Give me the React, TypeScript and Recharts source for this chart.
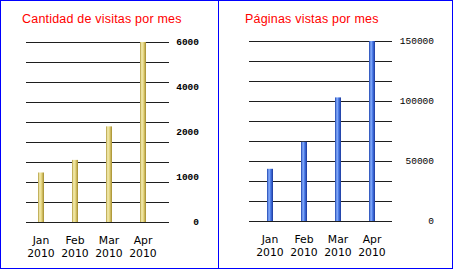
import { Bar, BarChart, CartesianGrid, XAxis, YAxis } from "recharts";

const months = ["Jan 2010", "Feb 2010", "Mar 2010", "Apr 2010"];
const visits = [1100, 1380, 2250, 6000];
const pageViews = [43500, 66000, 103000, 150000];
const visitTicks = [0, 1000, 2000, 4000, 6000];
const pageTicks = [0, 50000, 100000, 150000];
const gridSteps = [0, 1, 2, 3, 4, 5, 6, 7, 8, 9];

const visitData = months.map((m, i) => ({ month: m, value: visits[i] }));
const pageData = months.map((m, i) => ({ month: m, value: pageViews[i] }));

// the visits axis puts its labels at equal steps, so values go piece by piece between them
function pieceScale(knots: number[]) {
  let dom = [knots[0], knots[knots.length - 1]];
  let rng = [0, 1];
  const s: any = (v: number) => {
    const n = knots.length - 1;
    let i = 0;
    while (i < n - 1 && v > knots[i + 1]) i++;
    const t = (i + (v - knots[i]) / (knots[i + 1] - knots[i])) / n;
    return rng[0] + t * (rng[1] - rng[0]);
  };
  s.domain = (d?: number[]) => (d ? ((dom = d), s) : dom);
  s.range = (r?: number[]) => (r ? ((rng = r), s) : rng);
  s.copy = () => pieceScale(knots).domain(dom).range(rng);
  s.ticks = () => knots;
  return s;
}

// nine equal bands of grid, independent of the labelled values (+0.5 keeps lines crisp)
const gridLines = ({ offset }: any) =>
  gridSteps.map(
    (k) => offset.top + 0.5 + (offset.height * k) / (gridSteps.length - 1)
  );

const MonthTick = (props: any) => {
  const [m, y] = String(props.payload.value).split(" ");
  return (
    <text
      x={props.x}
      y={props.y}
      textAnchor="middle"
      fontFamily="DejaVu Sans"
      fontSize={10.8}
      fill="#000"
    >
      <tspan x={props.x} dy={14}>{m}</tspan>
      <tspan x={props.x} dy={13}>{y}</tspan>
    </text>
  );
};

const makeValueTick = (shift: number, weight: string) => (props: any) => (
  <text
    x={props.x + shift}
    y={props.y}
    dy={3}
    textAnchor="end"
    fontFamily="Liberation Mono"
    fontSize={9.5}
    fontWeight={weight}
    fill="#000"
  >
    {props.payload.value}
  </text>
);

const titleStyle: React.CSSProperties = {
  position: "absolute",
  top: 12,
  fontFamily: "Liberation Sans, Arial, sans-serif",
  fontSize: 12.5,
  letterSpacing: 0.2,
  color: "#ff0000",
  whiteSpace: "nowrap",
};

export default function App() {
  return (
    <div
      style={{
        position: "fixed",
        left: 0,
        top: 0,
        width: 451,
        height: 267,
        border: "1px solid #0000ff",
        background: "#fff",
      }}
    >
      <svg width={0} height={0} style={{ position: "absolute" }}>
        <defs>
          <linearGradient id="gold" x1="0" y1="0" x2="1" y2="0">
            <stop offset="0%" stopColor="#b09a3c" />
            <stop offset="30%" stopColor="#f6efb4" />
            <stop offset="60%" stopColor="#e2d27c" />
            <stop offset="100%" stopColor="#a48c2c" />
          </linearGradient>
          <linearGradient id="blue" x1="0" y1="0" x2="1" y2="0">
            <stop offset="0%" stopColor="#1c44b0" />
            <stop offset="35%" stopColor="#8cb2ff" />
            <stop offset="60%" stopColor="#4a7ae6" />
            <stop offset="100%" stopColor="#1a389c" />
          </linearGradient>
        </defs>
      </svg>

      <div
        style={{
          position: "absolute",
          left: 217,
          top: 0,
          width: 1,
          height: 267,
          background: "#0000ff",
        }}
      />

      <div style={{ position: "absolute", left: -1, top: -1 }}>
        <div style={{ ...titleStyle, left: 22 }}>Cantidad de visitas por mes</div>
        <BarChart
          width={218}
          height={269}
          data={visitData}
          margin={{ top: 42, left: 26, right: 19, bottom: 7 }}
        >
          <CartesianGrid
            vertical={false}
            stroke="#1e1e1e"
            horizontalCoordinatesGenerator={gridLines}
          />
          <XAxis
            dataKey="month"
            axisLine={false}
            tickLine={false}
            interval={0}
            height={40}
            padding={{ left: -2, right: 9 }}
            tick={<MonthTick />}
          />
          <YAxis
            orientation="right"
            width={30}
            scale={pieceScale(visitTicks)}
            domain={[0, 6000]}
            ticks={visitTicks}
            axisLine={false}
            tickLine={false}
            tickSize={0}
            tickMargin={0}
            tick={makeValueTick(30, "bold")}
          />
          <Bar dataKey="value" barSize={6} fill="url(#gold)" isAnimationActive={false} />
        </BarChart>
      </div>

      <div style={{ position: "absolute", left: 218, top: -1 }}>
        <div style={{ ...titleStyle, left: 26 }}>Páginas vistas por mes</div>
        <BarChart
          width={234}
          height={269}
          data={pageData}
          margin={{ top: 41, left: 30, right: 16, bottom: 8 }}
        >
          <CartesianGrid
            vertical={false}
            stroke="#1e1e1e"
            horizontalCoordinatesGenerator={gridLines}
          />
          <XAxis
            dataKey="month"
            axisLine={false}
            tickLine={false}
            interval={0}
            height={40}
            padding={{ left: 4, right: 3 }}
            tick={<MonthTick />}
          />
          <YAxis
            orientation="right"
            width={45}
            domain={[0, 150000]}
            ticks={pageTicks}
            axisLine={false}
            tickLine={false}
            tickSize={0}
            tickMargin={0}
            tick={makeValueTick(42, "normal")}
          />
          <Bar dataKey="value" barSize={6} fill="url(#blue)" isAnimationActive={false} />
        </BarChart>
      </div>
    </div>
  );
}
